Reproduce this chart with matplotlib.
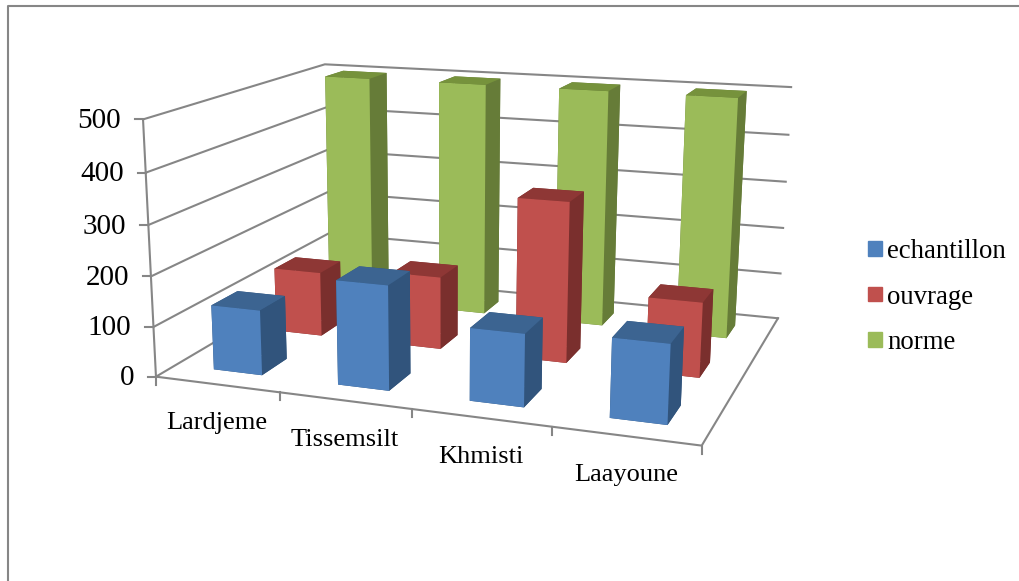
"""
plot.py
-------
3D clustered column chart of three series across four sites, with a fixed
camera fitted from the corners of the chart box.
"""

import numpy as np
import matplotlib
matplotlib.use("Agg")
import matplotlib.pyplot as plt
from matplotlib.lines import Line2D
from matplotlib.patches import Patch
from matplotlib.transforms import Affine2D


categories = ["Lardjeme", "Tissemsilt", "Khmisti", "Laayoune"]
series_names = ["echantillon", "ouvrage", "norme"]
echantillon = [130, 205, 140, 150]
ouvrage = [135, 150, 325, 150]
norme = [500, 500, 500, 500]
y_ticks = [0, 100, 200, 300, 400, 500]

W, H = 1020, 581
GREY = "#868686"
LINE_W = 1.5
# front, top and side shades of each series
SHADES = [
    ("#4F81BD", "#3C6491", "#31547C"),
    ("#C0504D", "#8E3735", "#7A2F2D"),
    ("#9BBB59", "#76923C", "#667C38"),
]

# box corners (category, depth, value) and where they land in pixels
BOX_POINTS = [
    (0, 0, 0), (1, 0, 0), (2, 0, 0), (3, 0, 0), (4, 0, 0),
    (4, 1, 0), (0, 1, 0), (0, 0, 500), (4, 1, 500), (0, 1, 500),
]
BOX_PIXELS = [
    (156, 375), (280, 392), (412, 408), (552, 428), (702, 447),
    (778, 316), (329, 277), (143, 120), (791, 88), (325, 63),
]


def fit_camera(points, pixels):
    """Least-squares 3x4 camera matrix, with the last entry fixed to 1."""
    rows, rhs = [], []
    for (x, y, z), (u, v) in zip(points, pixels):
        rows.append([x, y, z, 1, 0, 0, 0, 0, -u * x, -u * y, -u * z])
        rows.append([0, 0, 0, 0, x, y, z, 1, -v * x, -v * y, -v * z])
        rhs += [u, v]
    p = np.linalg.lstsq(np.array(rows, float), np.array(rhs, float), rcond=None)[0]
    return np.append(p, 1.0).reshape(3, 4)


CAMERA = fit_camera(BOX_POINTS, BOX_PIXELS)


def to_pixels(x, y, z):
    u, v, w = CAMERA @ np.array([x, y, z, 1.0])
    return u / w, v / w


fig = plt.figure(figsize=(W / 100, H / 100), dpi=100)
plt.rcParams["font.family"] = ["Liberation Serif", "DejaVu Serif"]

# the 3D axes must stay square, so it overhangs the figure top and bottom
ax = fig.add_axes([0, (H - W) / (2 * H), 1, W / H], projection="3d")
ax.set_axis_off()
ax.computed_zorder = False


def camera_proj():
    ax.apply_aspect()
    (x0, y0), (x1, y1) = ax.transData.inverted().transform([(0, H), (W, 0)])
    to_view = np.array([
        [(x1 - x0) / W, 0, x0],
        [0, (y1 - y0) / H, y0],
    ])
    xy = to_view @ CAMERA
    # depth grows away from the camera, which is what the face sorting needs
    return np.vstack([xy, [0, 0, 0, -1], CAMERA[2]])


ax.get_proj = camera_proj

# pixel coordinates with the origin at the top left
px = Affine2D().scale(1 / W, -1 / H).translate(0, 1) + fig.transFigure

# outer frame
fig.add_artist(Line2D([1020, 8, 8], [6, 6, 581], color=GREY, lw=LINE_W, transform=px))

# gridlines on the two walls
for t in y_ticks:
    ax.plot([0, 0, 4], [0, 1, 1], [t, t, t], color=GREY, lw=LINE_W, zorder=1)

# floor outline and the value axis
ax.plot([0, 4, 4], [0, 0, 1], [0, 0, 0], color=GREY, lw=LINE_W, zorder=1)
ax.plot([0, 0], [0, 0], [0, 500], color=GREY, lw=LINE_W, zorder=1)

# value ticks and labels
for t in y_ticks:
    u, v = to_pixels(0, 0, t)
    fig.add_artist(Line2D([u - 8, u], [v, v], color=GREY, lw=LINE_W, transform=px))
    fig.text(u - 22, v + 1.5, str(t), transform=px, fontsize=21, ha="right", va="center")

# category ticks
for i in range(len(categories) + 1):
    u, v = to_pixels(i, 0, 0)
    fig.add_artist(Line2D([u, u], [v, v + 8], color=GREY, lw=LINE_W, transform=px))

# category labels
for i, name in enumerate(categories):
    u, v = to_pixels(i + 0.5, 0, 0)
    fig.text(u, v + 39, name, transform=px, fontsize=19, ha="center", va="center")

# columns, back row first so nearer ones cover them
bar_width = 0.395
bar_depths = [0.135, 0.125, 0.12]
row_fronts = [0.097, 0.438, 0.775]
rows = [echantillon, ouvrage, norme]
for r in (2, 1, 0):
    front, top, side = SHADES[r]
    # face order in bar3d: bottom, top, front, back, left, right
    face_colors = [side, top, front, side, side, side]
    for i, value in enumerate(rows[r]):
        ax.bar3d(i + 0.315, row_fronts[r], 0, bar_width, bar_depths[r], value,
                 color=face_colors, shade=False, linewidth=0, zorder=2 + 3 - r + i * 0.1)

handles = [Patch(color=SHADES[i][0], label=series_names[i]) for i in range(3)]
fig.legend(
    handles=handles,
    loc="center left",
    bbox_to_anchor=(868, 297),
    bbox_transform=px,
    frameon=False,
    fontsize=19.3,
    handlelength=0.52,
    handleheight=0.48,
    handletextpad=0.2,
    labelspacing=0.76,
    borderpad=0,
    borderaxespad=0,
)

fig.savefig("out.png", dpi=100)
plt.close(fig)
